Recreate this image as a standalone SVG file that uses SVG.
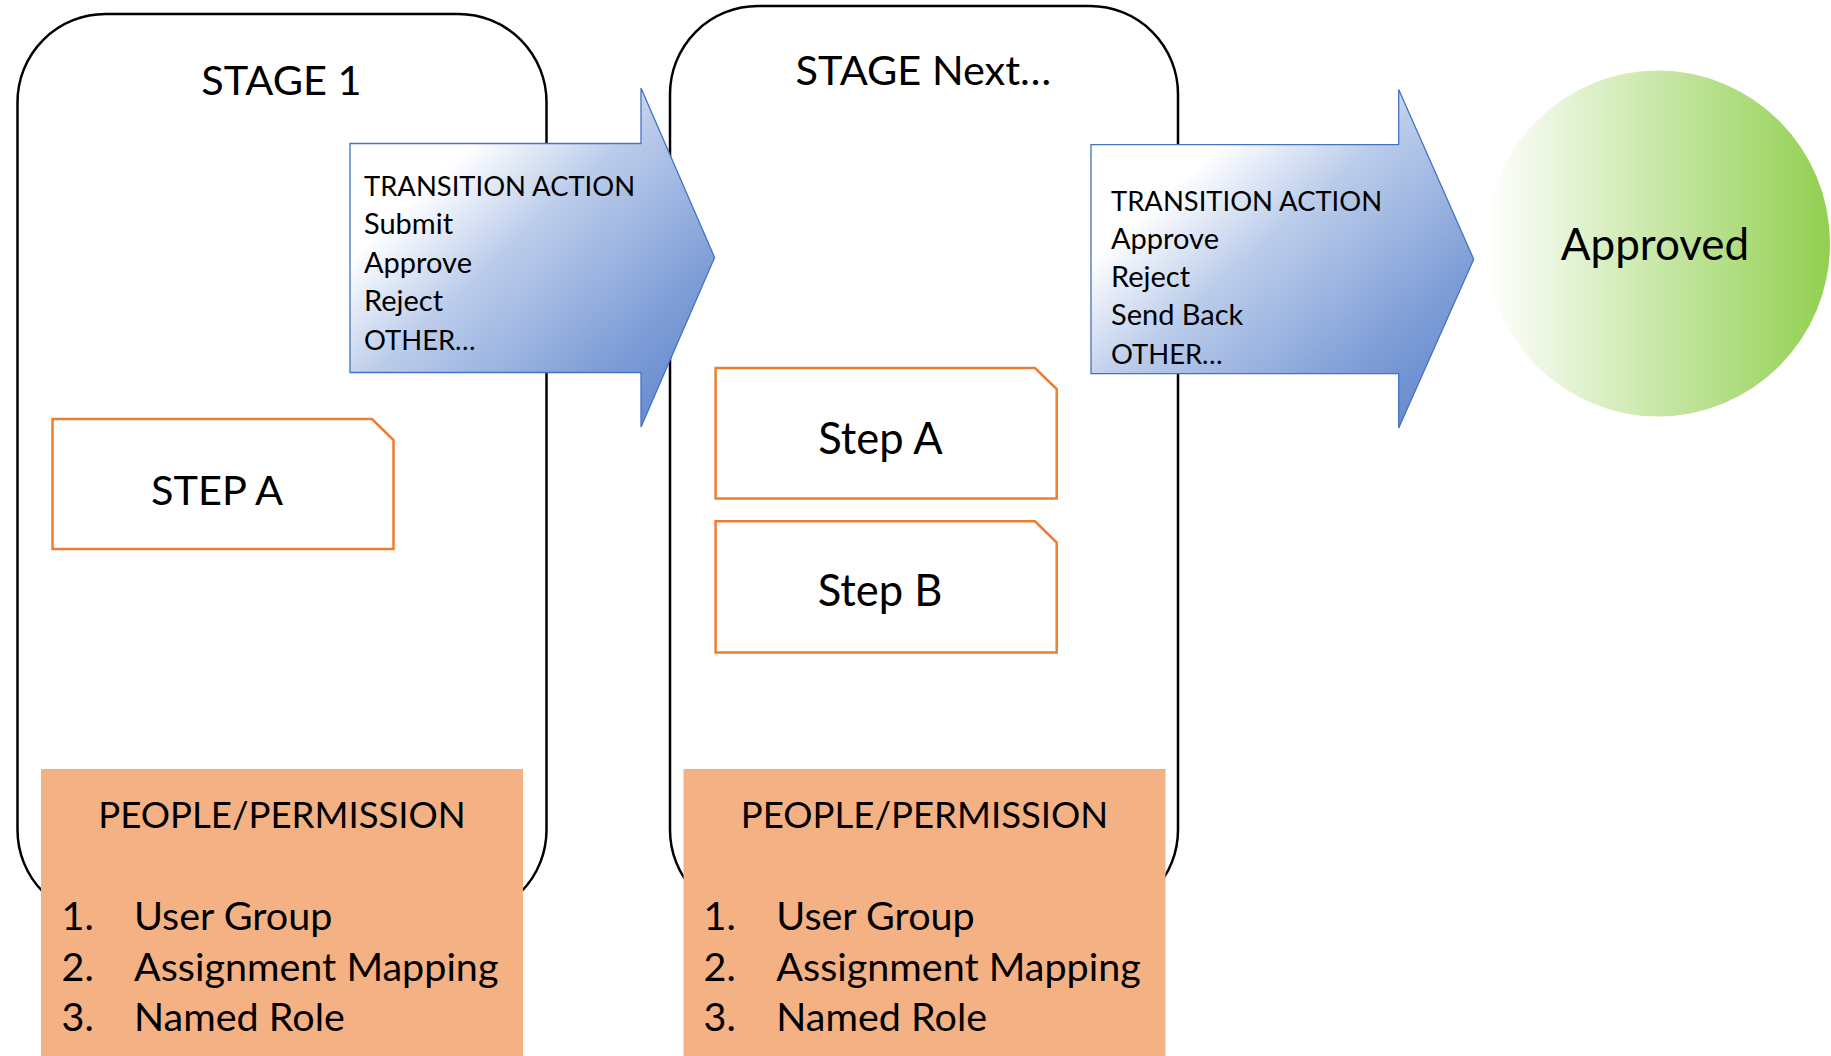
<svg xmlns="http://www.w3.org/2000/svg" width="1831" height="1056" viewBox="0 0 1831 1056">
<defs>
<linearGradient id="blueGrad" x1="0" y1="0" x2="1" y2="1">
<stop offset="0" stop-color="#ffffff"/>
<stop offset="0.25" stop-color="#ffffff"/>
<stop offset="0.45" stop-color="#bccdeb"/>
<stop offset="0.75" stop-color="#809fd8"/>
<stop offset="1" stop-color="#5a80cb"/>
</linearGradient>
<linearGradient id="greenGrad" x1="0" y1="0" x2="1" y2="0">
<stop offset="0" stop-color="#ffffff"/>
<stop offset="1" stop-color="#92D050"/>
</linearGradient>
<style>
text{font-family:Lato,"Liberation Sans",sans-serif;fill:#000}
.stage{fill:#fff;stroke:#000;stroke-width:2.5}
.step{fill:#fff;stroke:#ED7D31;stroke-width:2.5}
.people{fill:#F4B183}
.arrow{fill:url(#blueGrad);stroke:#4472C4;stroke-width:1.3}
.title{font-size:41.5px;text-anchor:middle}
.steptxt{font-size:43.5px;text-anchor:middle}
.caps{font-size:41.5px;text-anchor:middle}
.act{font-size:29px}
.acth{font-size:27.4px}
.ph{font-size:36.6px;text-anchor:middle}
.li{font-size:39.5px}
</style>
</defs>
<rect width="1831" height="1056" fill="#fff"/>
<g id="stage1">
<rect class="stage" x="17.5" y="14" width="529" height="904" rx="88" ry="88"/>
<text class="title" x="281.4" y="94.6">STAGE 1</text>
</g>
<g id="stageNext">
<rect class="stage" x="670" y="6" width="508" height="912" rx="88" ry="88"/>
<text class="title" x="923.4" y="84.6">STAGE Next…</text>
</g>
<g id="stage1-stepA">
<path class="step" d="M52.5,419 H372 L393.5,440 V549 H52.5 Z"/>
<text class="caps" x="217" y="505">STEP A</text>
</g>
<g id="stageNext-stepA">
<path class="step" d="M715.6,368 H1035 L1056.7,389 V498.5 H715.6 Z"/>
<text class="steptxt" x="880.5" y="454">Step A</text>
</g>
<g id="stageNext-stepB">
<path class="step" d="M715.6,521.3 H1035 L1056.7,542.5 V652.5 H715.6 Z"/>
<text class="steptxt" x="880" y="606.4">Step B</text>
</g>
<g id="people1">
<rect class="people" x="41" y="769" width="482" height="290"/>
<text class="ph" x="282" y="828">PEOPLE/PERMISSION</text>
<text class="li" x="61.6" y="929.8">1.</text><text class="li" x="134" y="929.8">User Group</text>
<text class="li" x="61.6" y="980.5">2.</text><text class="li" x="134" y="980.5">Assignment Mapping</text>
<text class="li" x="61.6" y="1030.8">3.</text><text class="li" x="134" y="1030.8">Named Role</text>
</g>
<g id="people2">
<rect class="people" x="683.5" y="769" width="482" height="290"/>
<text class="ph" x="924.5" y="828">PEOPLE/PERMISSION</text>
<text class="li" x="703.6" y="929.8">1.</text><text class="li" x="776.3" y="929.8">User Group</text>
<text class="li" x="703.6" y="980.5">2.</text><text class="li" x="776.3" y="980.5">Assignment Mapping</text>
<text class="li" x="703.6" y="1030.8">3.</text><text class="li" x="776.3" y="1030.8">Named Role</text>
</g>
<g id="approved">
<ellipse cx="1658" cy="243.5" rx="172" ry="173" fill="url(#greenGrad)"/>
<text class="steptxt" x="1655" y="259.5" style="font-size:44px">Approved</text>
</g>
<g id="connectors">
<g id="transition1">
<path class="arrow" d="M350,143.5 H641 V88 L714.6,257.5 L641,427 V372.5 H350 Z"/>
<text class="acth" x="364" y="196">TRANSITION ACTION</text>
<text class="act" x="364" y="234.4">Submit</text>
<text class="act" x="364" y="272.8">Approve</text>
<text class="act" x="364" y="311.2">Reject</text>
<text class="acth" x="364" y="349.6">OTHER…</text>
</g>
<g id="transition2">
<path class="arrow" d="M1091,144.7 H1398.7 V89.5 L1473.7,259.2 L1398.7,428 V373.6 H1091 Z"/>
<text class="acth" x="1111" y="210.5">TRANSITION ACTION</text>
<text class="act" x="1111" y="248.8">Approve</text>
<text class="act" x="1111" y="287.1">Reject</text>
<text class="act" x="1111" y="325.4">Send Back</text>
<text class="acth" x="1111" y="363.7">OTHER…</text>
</g>
</g>
</svg>
